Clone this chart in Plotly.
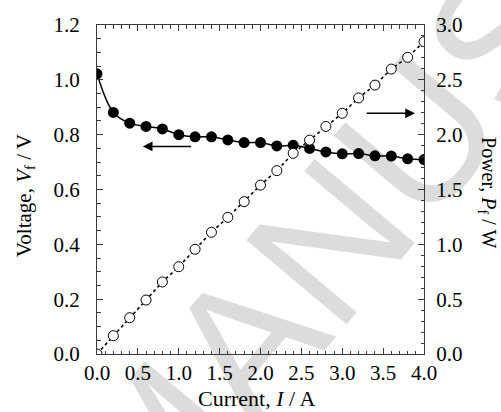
import plotly.graph_objects as go

current = [0.0, 0.2, 0.4, 0.6, 0.8, 1.0, 1.2, 1.4, 1.6, 1.8, 2.0,
           2.2, 2.4, 2.6, 2.8, 3.0, 3.2, 3.4, 3.6, 3.8, 4.0]
voltage = [1.022, 0.881, 0.842, 0.830, 0.821, 0.800, 0.792, 0.792, 0.781, 0.771, 0.771,
           0.759, 0.761, 0.750, 0.737, 0.730, 0.731, 0.723, 0.722, 0.712, 0.709]
power = [0.0, 0.167, 0.331, 0.492, 0.657, 0.796, 0.955, 1.11, 1.246, 1.389, 1.54,
         1.672, 1.83, 1.95, 2.075, 2.195, 2.335, 2.452, 2.598, 2.705, 2.848]

x_ticks = [0.0, 0.5, 1.0, 1.5, 2.0, 2.5, 3.0, 3.5, 4.0]
y_ticks = [0.0, 0.2, 0.4, 0.6, 0.8, 1.0, 1.2]
y2_ticks = [0.0, 0.5, 1.0, 1.5, 2.0, 2.5, 3.0]

FONT = "Liberation Serif"
AX = "#3a3a3a"

fig = go.Figure()
fig.add_trace(go.Scatter(
    x=current, y=power, yaxis="y2", mode="lines+markers",
    line=dict(color="black", width=1.6, dash="dot"),
    marker=dict(symbol="circle", size=10, color="white", line=dict(color="black", width=1)),
    showlegend=False))
fig.add_trace(go.Scatter(
    x=current, y=voltage, mode="lines+markers",
    line=dict(color="black", width=1.5, shape="spline", smoothing=1.0),
    marker=dict(symbol="circle", size=11, color="black"),
    showlegend=False))

def axis_common(standoff):
    return dict(
        showline=True, linecolor=AX, linewidth=1, ticks="inside", ticklen=6,
        tickcolor=AX, tickwidth=1, showgrid=False, zeroline=False,
        ticklabelstandoff=standoff, tickformat=".1f",
        tickfont=dict(family=FONT, size=21, color="black"),
    )

fig.update_layout(
    width=501, height=412,
    margin=dict(l=97, r=77, t=25, b=58),
    font=dict(family=FONT, size=21, color="black"),
    paper_bgcolor="white", plot_bgcolor="rgba(0,0,0,0)",
    xaxis=dict(range=[0, 4], tickvals=x_ticks,
               mirror="ticks",
               minor=dict(dtick=0.1, ticklen=3.5, ticks="inside", tickcolor=AX, showgrid=False),
               **axis_common(0)),
    yaxis=dict(range=[0, 1.2], tickvals=y_ticks,
               minor=dict(dtick=0.05, ticklen=3.5, ticks="inside", tickcolor=AX, showgrid=False),
               **axis_common(12)),
    yaxis2=dict(range=[0, 3.0], tickvals=y2_ticks,
                overlaying="y", side="right",
                minor=dict(dtick=0.1, ticklen=3.5, ticks="inside", tickcolor=AX, showgrid=False),
                **axis_common(7)),
)

# watermark (behind data)
fig.add_shape(type="rect", xref="paper", yref="paper", x0=0.14, x1=0.142, y0=-0.25, y1=-0.248,
              line=dict(width=0), fillcolor="rgba(0,0,0,0)", layer="below",
              label=dict(text="ACCEPTED MANUSCRIPT", textangle=-50, textposition="middle center",
                         font=dict(family="Liberation Sans", size=190, color="#dcdcdc")))

# arrows
fig.add_annotation(x=0.56, y=0.757, ax=1.17, ay=0.757, xref="x", yref="y", axref="x", ayref="y",
                   showarrow=True, arrowhead=2, arrowsize=1.3, arrowwidth=1.5, arrowcolor="black", text="")
fig.add_annotation(x=3.89, y=2.195, ax=3.28, ay=2.195, xref="x", yref="y2", axref="x", ayref="y2",
                   showarrow=True, arrowhead=2, arrowsize=1.3, arrowwidth=1.5, arrowcolor="black", text="")

# axis titles
fig.add_annotation(text="Current, <i>I</i> / A", xref="paper", yref="paper", x=0.489, y=-0.136,
                   yanchor="middle", xanchor="center", showarrow=False,
                   font=dict(family=FONT, size=22, color="black"))
fig.add_annotation(text="Voltage, <i>V</i><sub>f</sub> / V", xref="paper", yref="paper",
                   x=-0.22, y=0.48, textangle=-90, showarrow=False,
                   font=dict(family=FONT, size=21, color="black"),
                   xanchor="center", yanchor="middle")
fig.add_annotation(text="Power, <i>P</i><sub>f</sub> / W", xref="paper", yref="paper",
                   x=1.196, y=0.492, textangle=90, showarrow=False,
                   font=dict(family=FONT, size=20, color="black"),
                   xanchor="center", yanchor="middle")

fig.write_html("out.html")
